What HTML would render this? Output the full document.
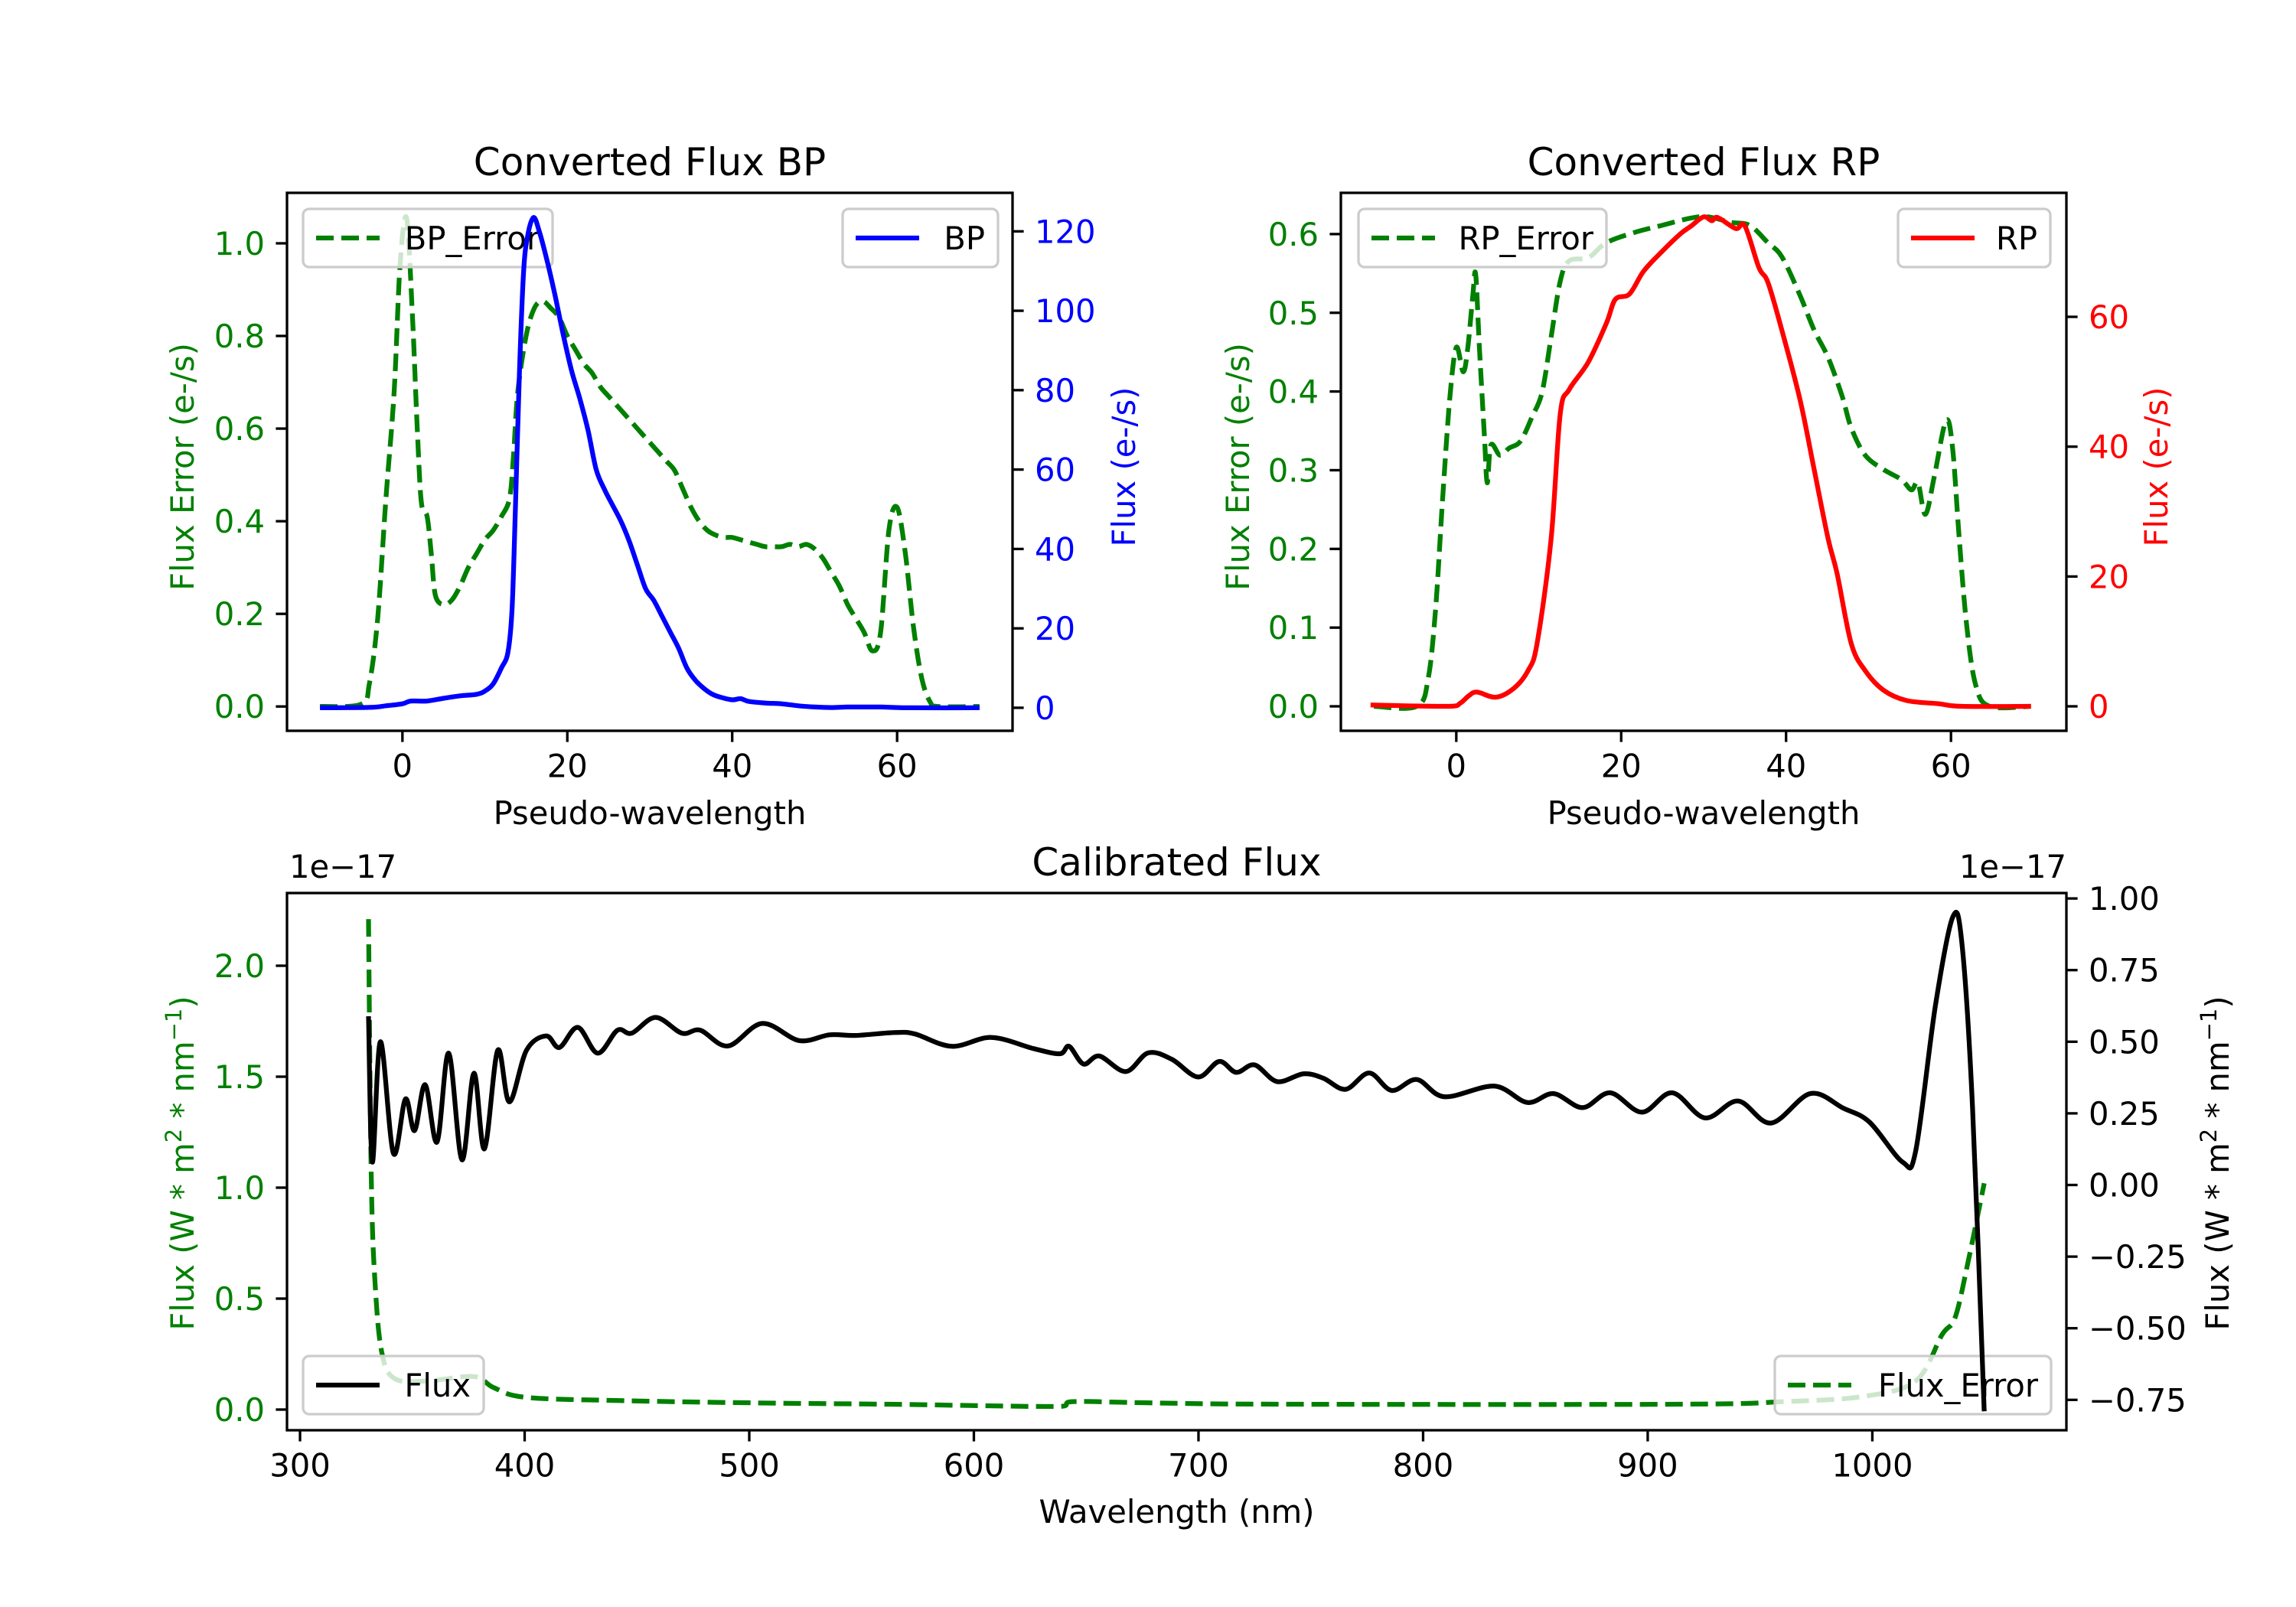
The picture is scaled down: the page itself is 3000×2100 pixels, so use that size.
<!DOCTYPE html>
<html><head><meta charset="utf-8"><style>
html,body{margin:0;padding:0;background:#fff;}
svg{display:block;font-family:"DejaVu Sans","Liberation Sans",sans-serif;}
</style></head><body>
<svg id="fig" xmlns="http://www.w3.org/2000/svg" width="3000" height="2100" viewBox="0 0 3000 2100"></svg>
<script>
// ---- Data: BP panel ----
const bpErrX=[-10,-5,-4,-3,-2,-1,-0.3,0.5,1.2,1.8,2.3,3,3.5,4,5,6,7,8,9,10,11,12,13,13.5,14,15,16,17,18,19,20,21,22,23,24,25,26,27,28,29,30,31,32,33,34,35,36,37,38,39,40,41,42,43,44,45,46,47,48,49,50,51,52,53,54,55,56,57,58,59,60,61,62,63,64,65,70];
const bpErrY=[0,0.005,0.05,0.19,0.45,0.68,0.95,1.055,0.85,0.6,0.44,0.41,0.33,0.24,0.22,0.23,0.26,0.3,0.33,0.36,0.38,0.41,0.45,0.55,0.68,0.8,0.86,0.875,0.86,0.84,0.8,0.77,0.74,0.72,0.69,0.67,0.65,0.63,0.61,0.59,0.57,0.55,0.53,0.51,0.47,0.43,0.4,0.38,0.37,0.365,0.365,0.36,0.355,0.35,0.345,0.345,0.345,0.35,0.345,0.35,0.34,0.32,0.29,0.26,0.22,0.19,0.16,0.12,0.16,0.38,0.43,0.33,0.17,0.06,0.01,0,0];
const bpX=[-10,-4,-2,0,1,3,5,7,9,10,11,12,12.8,13.3,13.7,14.2,14.7,15.2,15.9,16.6,17.5,18.5,19.5,20.5,21.5,22.5,23.5,24.5,25.5,26.5,27.5,28.5,29.5,30.5,31.5,32.5,33.5,34.5,35.5,36.5,37.5,38.5,40,41,42,44,46,48,50,52,54,56,58,60,62,70];
const bpY=[0,0.1,0.5,1,1.7,1.7,2.4,3,3.4,4.2,6,10,14,25,50,85,110,119,123.5,120,113,104,94,85,78,70,60,55,51,47,42,36,30,27,23,19,15,10,7,5,3.5,2.7,2,2.3,1.6,1.2,1.0,0.5,0.2,0.05,0.2,0.2,0.2,0.05,0,0];
// ---- Data: RP panel ----
const rpErrX=[-10,-4.8,-3.4,-2.5,-1.7,-0.8,0,0.84,1.4,2,2.35,2.8,3.4,3.75,4.2,5.3,6.4,7.8,9.2,10.4,11.5,12.6,13.7,16,18.2,21.6,24.9,28.3,30.5,33.3,35.6,37.8,39.5,41.7,43.4,45.1,46.8,47.9,49.6,51.8,54,55.2,56,56.9,58,59.4,60.2,61,61.9,63,64.7,69.7];
const rpErrY=[0,0,0.036,0.125,0.257,0.39,0.456,0.425,0.456,0.522,0.549,0.456,0.346,0.284,0.332,0.319,0.328,0.337,0.368,0.399,0.469,0.54,0.566,0.57,0.589,0.602,0.611,0.62,0.622,0.615,0.611,0.589,0.571,0.522,0.478,0.443,0.394,0.354,0.319,0.301,0.288,0.275,0.284,0.244,0.293,0.363,0.328,0.213,0.103,0.027,0,0];
const rpX=[-10.4,-0.8,0.5,1.5,2.5,4.8,7,8.7,9.8,11.5,12.6,13.7,16,18.2,19.3,21,22.7,24.9,27.2,28.5,30,31,31.7,33.9,35,36.7,37.8,39.5,41.7,43.4,45.1,46.2,47.9,49.6,51.8,54.6,58.5,61.3,69.7];
const rpY=[0.2,0,0.5,1.6,2.2,1.4,2.8,5.5,9.7,25.8,45,48.8,53,59,62.7,63.5,67,70,72.8,74,75.4,74.8,75.3,73.6,74,67.6,65.3,57.9,47.2,36.5,25.8,20.4,9.7,5.5,2.5,0.9,0.4,0,0];
// ---- Data: Calibrated flux panel (units of 1e-17) ----
const calX=[330.5,332.2,335.8,341.6,346.9,351,355.7,361,366.2,372.1,377.4,382.1,388,393.2,400.8,409.6,415.5,423.7,432.5,441.3,447.7,458.3,470,478.2,490.5,505.8,522.2,535.7,547.4,565,573.8,590.2,607.8,626.6,638.3,642.4,648.8,655.9,667.6,677.6,688.1,699.8,709.2,716.8,725,735,746.7,755.5,765.5,776,786,797.2,809.5,831.7,846.4,858.1,871,883.3,897.4,910.9,925.5,940.2,954.9,972.4,987.1,998.8,1013.5,1019.3,1028.1,1035.8,1039.9,1044.6,1049.8];
const calY=[0.589,0.08,0.5,0.11,0.3,0.19,0.35,0.15,0.46,0.088,0.39,0.126,0.47,0.29,0.47,0.52,0.48,0.55,0.46,0.54,0.53,0.585,0.53,0.54,0.485,0.564,0.504,0.524,0.522,0.532,0.527,0.484,0.515,0.476,0.458,0.484,0.422,0.45,0.396,0.461,0.439,0.377,0.431,0.393,0.419,0.361,0.388,0.373,0.334,0.391,0.33,0.368,0.308,0.345,0.288,0.319,0.27,0.322,0.254,0.322,0.234,0.293,0.216,0.319,0.268,0.219,0.08,0.119,0.627,0.935,0.843,0.273,-0.79];
const calErrX=[330.5,331.7,333.4,336.4,342.2,356.9,377.4,386.2,400.8,444.8,503.4,562,638.3,644.1,679.3,738,913.8,960.7,995.9,1019.3,1031,1036.9,1042.8,1049.8];
const calErrY=[2.21,1.05,0.574,0.257,0.139,0.129,0.149,0.099,0.055,0.04,0.03,0.024,0.014,0.036,0.03,0.024,0.024,0.036,0.059,0.129,0.337,0.416,0.673,1.02];
// ---- Ticks ----
const pwTicks=[0,20,40,60];
const bpErrTicks=[0,0.2,0.4,0.6,0.8,1.0];
const bpTicks=[0,20,40,60,80,100,120];
const rpErrTicks=[0,0.1,0.2,0.3,0.4,0.5,0.6];
const rpTicks=[0,20,40,60];
const wlTicks=[300,400,500,600,700,800,900,1000];
const calErrTicks=[0,0.5,1.0,1.5,2.0];
const calTicks=[-0.75,-0.5,-0.25,0,0.25,0.5,0.75,1.0];

const NS='http://www.w3.org/2000/svg';
const svg=document.getElementById('fig');
function mk(tag,attrs,parent){const e=document.createElementNS(NS,tag);for(const k in attrs)e.setAttribute(k,attrs[k]);(parent||svg).appendChild(e);return e;}
function lin(d0,d1,p0,p1){return v=>p0+(v-d0)*(p1-p0)/(d1-d0);}
const FS=41.7, GREEN='#008000';
function fmt(v,dec){let s=v.toFixed(dec);return s.replace('-','\u2212');}
function smoothPath(P,smooth){
  if(!smooth) return P.map((p,i)=>(i?'L':'M')+p[0].toFixed(1)+','+p[1].toFixed(1)).join('');
  let d='M'+P[0][0].toFixed(1)+','+P[0][1].toFixed(1);
  for(let i=0;i<P.length-1;i++){
    const p0=P[Math.max(0,i-1)],p1=P[i],p2=P[i+1],p3=P[Math.min(P.length-1,i+2)];
    const k=1/6;
    const c1=[p1[0]+(p2[0]-p0[0])*k,p1[1]+(p2[1]-p0[1])*k];
    const c2=[p2[0]-(p3[0]-p1[0])*k,p2[1]-(p3[1]-p1[1])*k];
    // keep control points x monotone
    c1[0]=Math.min(Math.max(c1[0],p1[0]),p2[0]);c2[0]=Math.min(Math.max(c2[0],p1[0]),p2[0]);
    d+='C'+c1[0].toFixed(1)+','+c1[1].toFixed(1)+' '+c2[0].toFixed(1)+','+c2[1].toFixed(1)+' '+p2[0].toFixed(1)+','+p2[1].toFixed(1);
  }
  return d;
}

function panel(o){
  const g=mk('g',{});
  
  
  const cid='clip-'+o.name;
  const cp=mk('clipPath',{id:cid},g);mk('rect',{x:o.L,y:o.T,width:o.R-o.L,height:o.B-o.T},cp);
  const sx=lin(o.xd[0],o.xd[1],o.L,o.R);
  const syL=lin(o.yl[0],o.yl[1],o.B,o.T);
  const syR=lin(o.yr[0],o.yr[1],o.B,o.T);
  o.xt.forEach(v=>{const x=sx(v);
    mk('line',{x1:x,x2:x,y1:o.B,y2:o.B+14.6,stroke:'#000','stroke-width':3.3},g);
    const t=mk('text',{x:x,y:o.B+29+FS*0.76,'font-size':FS,'text-anchor':'middle',fill:'#000'},g);t.textContent=fmt(v,0);
    
    });
  o.ylt.forEach(v=>{const y=syL(v);
    mk('line',{x1:o.L-14.6,x2:o.L,y1:y,y2:y,stroke:'#000','stroke-width':3.3},g);
    const t=mk('text',{x:o.L-29,y:y+FS*0.36,'font-size':FS,'text-anchor':'end',fill:o.lc},g);t.textContent=fmt(v,o.ld);
    
    });
  o.yrt.forEach(v=>{const y=syR(v);
    mk('line',{x1:o.R,x2:o.R+14.6,y1:y,y2:y,stroke:'#000','stroke-width':3.3},g);
    const t=mk('text',{x:o.R+29,y:y+FS*0.36,'font-size':FS,'text-anchor':'start',fill:o.rc},g);t.textContent=fmt(v,o.rdec);
    
    });
  function line(xs,ys,sy,col,dash,nm){
    const P=xs.map((x,i)=>[sx(x),sy(ys[i])]);
    const p=mk('path',{d:smoothPath(P,true),fill:'none',stroke:col,'stroke-width':6.25,'stroke-linejoin':'round','clip-path':'url(#'+cid+')'},g);
    if(dash)p.setAttribute('stroke-dasharray','23,10');
    
    
  }
  function legend(l){
    const r=mk('rect',{x:l.x,y:l.y,width:l.w,height:l.h,rx:8,fill:'#fff','fill-opacity':0.8,stroke:'#ccc','stroke-width':3.3},g);
    
    
    const ly=l.y+l.h/2;
    const h=mk('line',{x1:l.x+17,x2:l.x+100,y1:ly,y2:ly,stroke:l.col,'stroke-width':6.25},g);
    if(l.dash)h.setAttribute('stroke-dasharray','23,10');
    const t=mk('text',{x:l.x+l.w-17,y:ly+FS*0.36,'font-size':FS,'text-anchor':'end',fill:'#000'},g);t.textContent=l.label;
    
    
  }
  line(o.s1.x,o.s1.y,syL,GREEN,true,o.s1.name);
  legend(o.leg1);
  line(o.s2.x,o.s2.y,syR,o.s2.col,false,o.s2.name);
  legend(o.leg2);
  mk('rect',{x:o.L,y:o.T,width:o.R-o.L,height:o.B-o.T,fill:'none',stroke:'#000','stroke-width':3.3},g);
  const tt=mk('text',{x:(o.L+o.R)/2,y:o.T-23,'font-size':50,'text-anchor':'middle',fill:'#000'},g);tt.textContent=o.title;
  
  
  const xl=mk('text',{x:(o.L+o.R)/2,y:o.xly,'font-size':FS,'text-anchor':'middle',fill:'#000'},g);xl.textContent=o.xlab;
  
  
  return g;
}
function ylab(x,y,col,html,name){
  const t=mk('text',{x:0,y:0,'font-size':FS,'text-anchor':'middle',fill:col,transform:'translate('+x+','+y+') rotate(-90)'});
  t.innerHTML=html;
  
  
}

panel({name:'bp-panel',L:375,R:1323,T:252,B:955,xd:[-14,74],yl:[-0.0525,1.109],yr:[-5.8,129.7],
  xt:pwTicks,ylt:bpErrTicks,ld:1,yrt:bpTicks,rdec:0,lc:GREEN,rc:'#0000ff',
  s1:{x:bpErrX,y:bpErrY,name:'bp-error-line'},s2:{x:bpX,y:bpY,col:'#0000ff',name:'bp-flux-line'},
  leg1:{x:396,y:273,w:326,h:76,col:GREEN,dash:true,label:'BP_Error'},
  leg2:{x:1101,y:273,w:203,h:76,col:'#0000ff',dash:false,label:'BP'},
  title:'Converted Flux BP',xlab:'Pseudo-wavelength',xly:1077});
panel({name:'rp-panel',L:1752,R:2700,T:252,B:955,xd:[-14,74],yl:[-0.0311,0.6524],yr:[-3.77,79.1],
  xt:pwTicks,ylt:rpErrTicks,ld:1,yrt:rpTicks,rdec:0,lc:GREEN,rc:'#ff0000',
  s1:{x:rpErrX,y:rpErrY,name:'rp-error-line'},s2:{x:rpX,y:rpY,col:'#ff0000',name:'rp-flux-line'},
  leg1:{x:1775,y:273,w:324,h:76,col:GREEN,dash:true,label:'RP_Error'},
  leg2:{x:2480,y:273,w:199,h:76,col:'#ff0000',dash:false,label:'RP'},
  title:'Converted Flux RP',xlab:'Pseudo-wavelength',xly:1077});
panel({name:'calibrated-panel',L:375,R:2700,T:1167,B:1869,xd:[294.2,1086.4],yl:[-0.0931,2.3276],yr:[-0.856,1.019],
  xt:wlTicks,ylt:calErrTicks,ld:1,yrt:calTicks,rdec:2,lc:GREEN,rc:'#000',
  s1:{x:calErrX,y:calErrY,name:'flux-error-line'},s2:{x:calX,y:calY,col:'#000',name:'flux-line'},
  leg1:{x:2319,y:1772,w:361,h:76,col:GREEN,dash:true,label:'Flux_Error'},
  leg2:{x:396,y:1772,w:236,h:76,col:'#000',dash:false,label:'Flux'},
  title:'Calibrated Flux',xlab:'Wavelength (nm)',xly:1990});

ylab(253,610,GREEN,'Flux Error (e-/s)','bp-left-y-axis-title');
ylab(1483,610,'#0000ff','Flux (e-/s)','bp-right-y-axis-title');
ylab(1632,610,GREEN,'Flux Error (e-/s)','rp-left-y-axis-title');
ylab(2832,610,'#ff0000','Flux (e-/s)','rp-right-y-axis-title');
const unitHTML='Flux (W * m<tspan dy="-16" font-size="29">2</tspan><tspan dy="16"> * nm</tspan><tspan dy="-16" font-size="29">\u22121</tspan><tspan dy="16">)</tspan>';
ylab(253,1520,GREEN,unitHTML,'calibrated-left-y-axis-title');
ylab(2912,1520,'#000',unitHTML,'calibrated-right-y-axis-title');
[[378,'start'],[2700,'end']].forEach(a=>{
  const t=mk('text',{x:a[0],y:1167-20,'font-size':FS,'text-anchor':a[1],fill:'#000'});
  t.textContent='1e\u221217';
  
  
});
</script>
</body></html>
